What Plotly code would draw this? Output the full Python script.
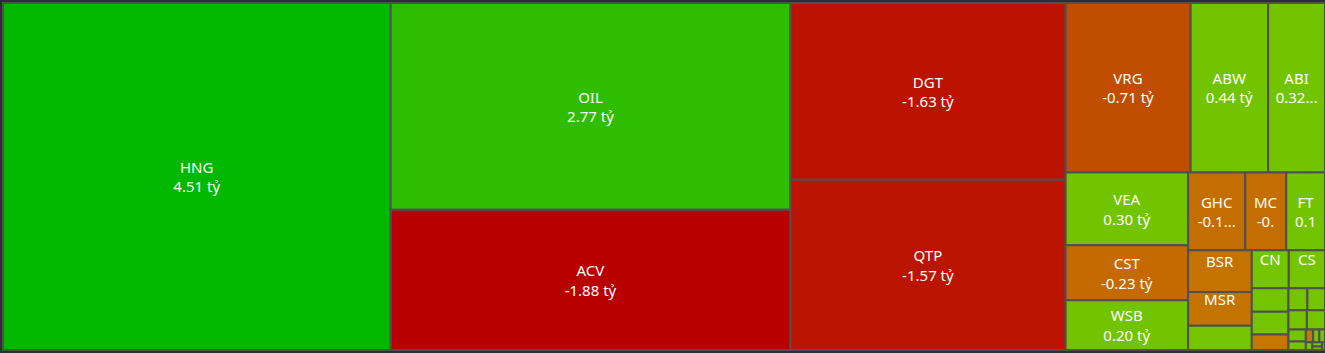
import plotly.graph_objects as go

# ---- data (net value, tỷ đồng) ----
tickers = ["HNG", "OIL", "ACV", "DGT", "QTP", "VRG", "ABW", "ABI", "VEA", "CST",
           "WSB", "GHC", "MC", "FT", "BSR", "MSR", "X01", "CN", "CS", "X02",
           "X03", "X04", "X05", "X06", "X07", "X08", "X09", "X10", "X11", "X12",
           "X13", "X14", "X15", "X16", "X17"]
net_values = [4.51, 2.77, -1.88, -1.63, -1.57, -0.71, 0.44, 0.323, 0.299, -0.226,
              0.204, -0.149, -0.107, 0.101, -0.089, -0.072, 0.052, 0.047, 0.046, 0.029,
              0.028, -0.019, 0.014, 0.013, 0.012, 0.0118, 0.0069, 0.0050, -0.0031, 0.0026,
              0.0024, 0.0017, 0.0014, 0.0011, -0.0008]
# text as it appears in each tile (truncated where the tile is too small)
shown_text = {
    "ABI": "ABI<br>0.32...",
    "GHC": "GHC<br>-0.1...",
    "MC": "MC<br>-0.",
    "FT": "FT<br>0.1",
    "BSR": "BSR<br>\u00a0",
    "MSR": "MSR<br>\u00a0",
    "CN": "CN<br>\u00a0",
    "CS": "CS<br>\u00a0",
}

# ---- style ----
tile_colors = ["#00b800", "#2fbd00", "#b80000", "#bb1300", "#bb1400", "#c14d00",
               "#72c400", "#72c400", "#72c400", "#c46a00", "#72c400", "#c46d00",
               "#c46d00", "#72c400", "#c47300", "#c47300", "#74c500", "#74c500",
               "#74c500", "#74c500", "#74c500", "#c47800", "#74c500", "#74c500",
               "#74c500", "#74c500", "#74c500", "#74c500", "#c47800", "#74c500",
               "#74c500", "#74c500", "#74c500", "#74c500", "#c47800"]

sizes = [abs(v) for v in net_values]
texts = []
for t, v in zip(tickers, net_values):
    if t in shown_text:
        texts.append(shown_text[t])
    elif t.startswith("X"):
        texts.append("")
    else:
        texts.append(f"{t}<br>{v:.2f} tỷ")

fig = go.Figure(go.Treemap(
    labels=tickers,
    parents=[""] * len(tickers),
    values=sizes,
    text=texts,
    textinfo="text",
    textposition="middle center",
    textfont=dict(family="Noto Sans", size=15, color="#ffffff"),
    marker=dict(colors=tile_colors, line=dict(color="#505050", width=2),
                pad=dict(t=0, l=0, r=0, b=0)),
    tiling=dict(packing="squarify", squarifyratio=1.618034, pad=0),
    pathbar=dict(visible=False),
    sort=True,
    hoverinfo="label+text",
))

fig.update_layout(
    width=1325, height=353,
    margin=dict(l=3, r=0, t=3, b=3),
    paper_bgcolor="#2c2f36",
    plot_bgcolor="#2c2f36",
    uniformtext=dict(minsize=15, mode="show"),
)

fig.write_html("out.html")
